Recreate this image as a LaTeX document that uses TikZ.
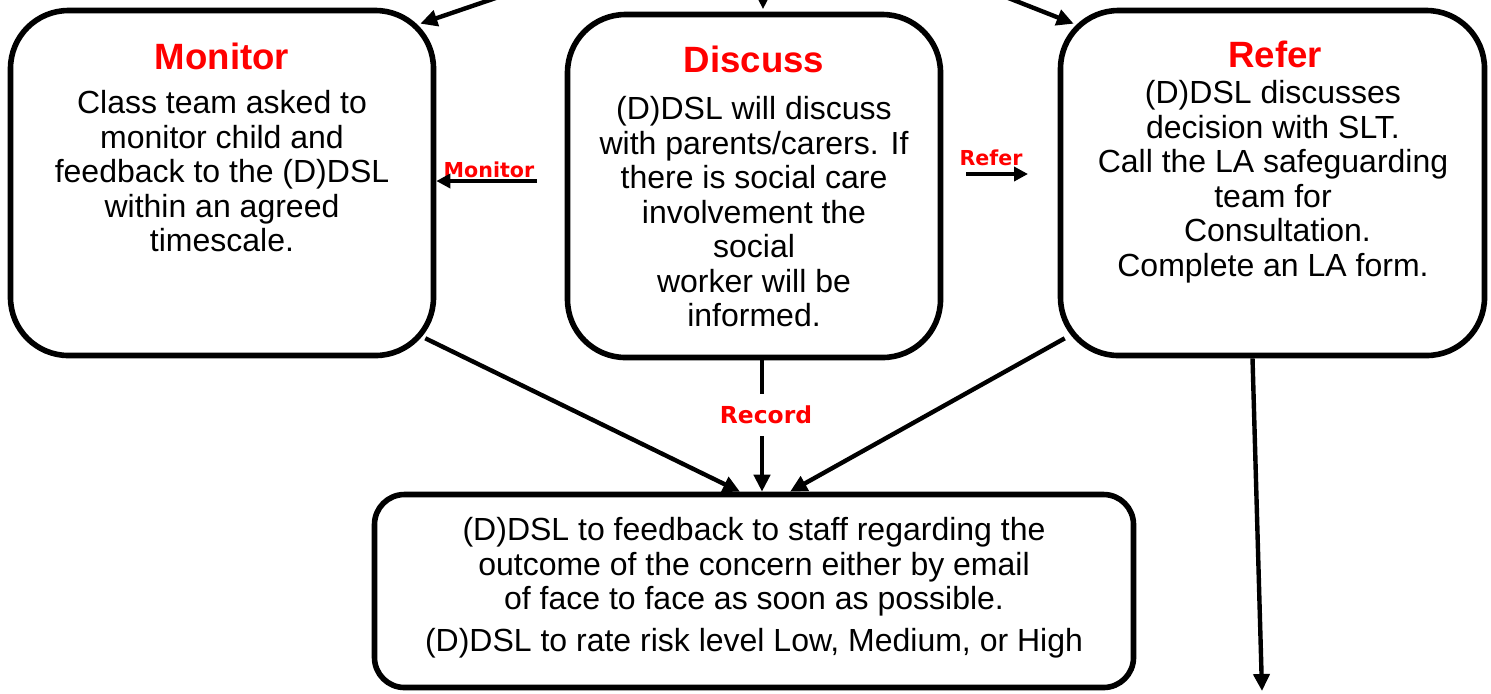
\documentclass[tikz,border=0pt]{standalone}
\usepackage{fontspec}
\setmainfont{Liberation Sans}
\newfontfamily\verdana{DejaVu Sans}
\usetikzlibrary{arrows.meta,calc}

\tikzset{
  box/.style={draw, line width=2.8pt, rounded corners=29pt, inner sep=0pt},
  title/.style={red, inner sep=0pt, font=\fontsize{18.3}{20}\selectfont\bfseries},
  body/.style={align=center, inner sep=0pt, font=\fontsize{16}{17.25}\selectfont},
  lbl/.style={red, inner sep=1pt, font=\verdana\fontsize{10.3}{12}\selectfont\bfseries},
  line/.style={line width=2.2pt},
  arr/.style={line width=2.2pt, -{Triangle[length=8.5pt,width=8pt]}},
  arrs/.style={line width=2.4pt, -{Triangle[length=7pt,width=7pt]}}
}

\begin{document}
\begin{tikzpicture}[x=0.5pt, y=-0.5pt]
      \useasboundingbox (0,0) rectangle (1491,693);

      % the three boxes and the outcome box
      \node (M) [box, minimum width=211.5pt, minimum height=172.5pt] at (222,183) {};
      \node (D) [box, minimum width=186.5pt, minimum height=171.5pt] at (754,186) {};
      \node (R) [box, minimum width=212pt, minimum height=172.5pt] at (1272.5,183) {};
      \node (F) [box, rounded corners=15pt, minimum width=379.5pt, minimum height=96.5pt] at (754,591) {};

      % titles
      \node (MT) [title, anchor=base] at (222,69) {Monitor};
      \node (DT) [title, anchor=base] at (754,72) {Discuss};
      \node (RT) [title, anchor=base] at (1275,67) {Refer};

      % texts
      \node (MX) [body, anchor=north] at (222,90)
            {Class team asked to\\monitor child and\\feedback to the (D)DSL\\within an agreed\\timescale.};
      \node (DX) [body, anchor=north] at (754,96)
            {(D)DSL will discuss\\with parents/carers. If\\there is social care\\involvement the\\social\\worker will be\\informed.};
      \node (RX) [body, anchor=north] at (1273,80)
            {(D)DSL discusses\\decision with SLT.\\Call the LA safeguarding\\team for\\~Consultation.\\Complete an LA form.};
      \node (FX) [body, anchor=north] at (754,517)
            {(D)DSL to feedback to staff regarding the\\outcome of the concern either by email\\of face to face as soon as possible.\\[3.75pt]
             (D)DSL to rate risk level Low, Medium, or High};

      % arrows coming in from above
      \coordinate (TL) at (525,-12);
      \coordinate (TM) at (763,-20);
      \coordinate (TR) at (983,-12);

      \path [arr] (TL) edge ($(M.north east)+(-16,16)$);
      \path [arr] (TM) edge ($(D.north)+(9,-2.5)$);
      \path [arr] (TR) edge ($(R.north west)+(16,16)$);

      % monitor and refer
      \node (ML) [lbl] at (489,170) {Monitor};
      \node (RL) [lbl] at (991,158) {Refer};

      \coordinate (MA) at (537,181);
      \coordinate (RA) at (966,174);
      \coordinate (RB) at (1028,174);

      \path [arrs] (MA) edge (MA -| M.east);
      \path [arrs] (RA) edge (RB);

      % record
      \node (CL) [lbl, font=\verdana\fontsize{11.7}{13}\selectfont\bfseries, inner sep=6pt] at (766,415) {Record};

      \path [line] ($(D.south)+(8,0)$) edge ($(CL.north)+(-4,0)$);
      \path [arr]  ($(CL.south)+(-4,0)$) edge ($(F.north)+(8,0)$);

      \path [arr] ($(M.south east)+(-11,-20)$) edge ($(F.north)+(-14,0)$);
      \path [arr] ($(R.south west)+(7,-20)$)   edge ($(F.north)+(36,0)$);

      % on to the LA
      \coordinate (LA) at (1262,691);
      \path [arr] ($(R.south)+(-20,0)$) edge (LA);
    \end{tikzpicture}
\end{document}
